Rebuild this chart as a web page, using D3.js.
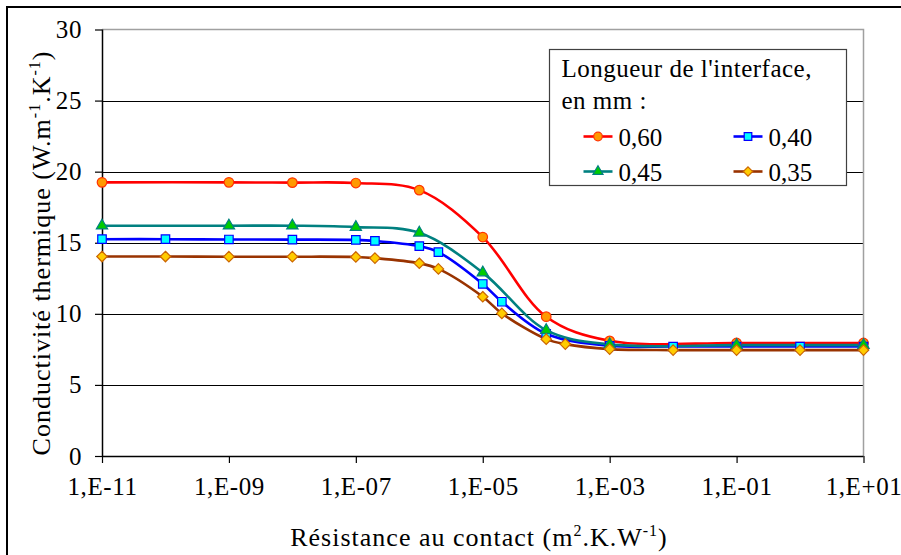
<!DOCTYPE html>
<html>
<head>
<meta charset="utf-8">
<script src="https://cdn.jsdelivr.net/npm/d3@7"></script>
<style>
  body { margin: 0; background: #fff; }
  svg { display: block; }
  svg text { font-family: "Liberation Serif", "Times New Roman", Times, "DejaVu Serif", serif; }
</style>
</head>
<body>
<script>
// series data
const xRed = [1e-11, 1e-9, 1e-8, 1e-7, 1e-6, 1e-5, 1e-4, 1e-3, 1e-1, 1e1];
const yRed = [19.25, 19.25, 19.23, 19.2, 18.7, 15.4, 9.8, 8.1, 7.95, 7.95];

const xGreen = [1e-11, 1e-9, 1e-8, 1e-7, 1e-6, 1e-5, 1e-4, 1e-3, 1e-1, 1e1];
const yGreen = [16.2, 16.2, 16.2, 16.1, 15.7, 12.9, 8.85, 7.85, 7.8, 7.8];

const xBlue = [1e-11, 1e-10, 1e-9, 1e-8, 1e-7, 2e-7, 1e-6, 2e-6, 1e-5, 2e-5, 1e-4, 1e-3, 1e-2, 1e-1, 1e0, 1e1];
const yBlue = [15.25, 15.25, 15.23, 15.22, 15.2, 15.13, 14.76, 14.34, 12.1, 10.85, 8.6, 7.75, 7.7, 7.7, 7.7, 7.7];

const xBrown = [1e-11, 1e-10, 1e-9, 1e-8, 1e-7, 2e-7, 1e-6, 2e-6, 1e-5, 2e-5, 1e-4, 2e-4, 1e-3, 1e-2, 1e-1, 1e0, 1e1];
const yBrown = [14.03, 14.03, 14.02, 14.02, 14.0, 13.92, 13.56, 13.16, 11.2, 10.03, 8.22, 7.87, 7.52, 7.45, 7.45, 7.45, 7.45];

const xTicks = [1e-11, 1e-9, 1e-7, 1e-5, 1e-3, 1e-1, 1e1];
const xTickLabels = ['1,E-11', '1,E-09', '1,E-07', '1,E-05', '1,E-03', '1,E-01', '1,E+01'];
const yTicks = [0, 5, 10, 15, 20, 25, 30];

const legendTitle = ["Longueur de l'interface,", 'en mm :'];

const diamond = {
  draw(ctx, size) {
    const r = Math.sqrt(size / 2);
    ctx.moveTo(0, -r);
    ctx.lineTo(r, 0);
    ctx.lineTo(0, r);
    ctx.lineTo(-r, 0);
    ctx.closePath();
  }
};

const series = [
  { name: '0,60', xs: xRed, ys: yRed, line: '#ff0000', fill: '#ff9900', stroke: '#ff3300', symbol: d3.symbolCircle, size: 72 },
  { name: '0,40', xs: xBlue, ys: yBlue, line: '#0000ff', fill: '#00ffff', stroke: '#0000ff', symbol: d3.symbolSquare, size: 72 },
  { name: '0,45', xs: xGreen, ys: yGreen, line: '#008080', fill: '#00cc00', stroke: '#008080', symbol: d3.symbolTriangle, size: 55 },
  { name: '0,35', xs: xBrown, ys: yBrown, line: '#993300', fill: '#ffcc00', stroke: '#cc6600', symbol: diamond, size: 55 }
];

const width = 901;
const height = 555;
const plotLeft = 102;
const plotRight = 863.5;
const plotTop = 29.5;
const plotBottom = 456;

const svg = d3
  .select('body')
  .append('svg')
  .attr('width', width)
  .attr('height', height);

// outer chart border
svg
  .append('rect')
  .attr('x', 7)
  .attr('y', 7)
  .attr('width', 910)
  .attr('height', 560)
  .attr('fill', '#fff')
  .attr('stroke', '#000')
  .attr('stroke-width', 2);

const x = d3.scaleLog().domain([1e-11, 1e1]).range([plotLeft, plotRight]);
const y = d3.scaleLinear().domain([0, 30]).range([plotBottom, plotTop]);

// gridlines
svg
  .append('g')
  .selectAll('line')
  .data(yTicks.filter(d => d > 0 && d < 30))
  .enter()
  .append('line')
  .attr('x1', plotLeft)
  .attr('x2', plotRight)
  .attr('y1', d => Math.round(y(d)) + 0.5)
  .attr('y2', d => Math.round(y(d)) + 0.5)
  .attr('stroke', '#000')
  .attr('stroke-width', 1);

// plot frame: top and right in gray
svg
  .append('path')
  .attr('d', `M${plotLeft},${plotTop}H${plotRight}V${plotBottom}`)
  .attr('fill', 'none')
  .attr('stroke', '#a0a0a0')
  .attr('stroke-width', 1.5);

const yAxis = d3.axisLeft(y).tickValues(yTicks).tickSize(7).tickPadding(13);
const xAxis = d3
  .axisBottom(x)
  .tickValues(xTicks)
  .tickSize(7)
  .tickPadding(14)
  .tickFormat((d, i) => xTickLabels[i]);

const gy = svg
  .append('g')
  .attr('transform', `translate(${plotLeft}, 0)`)
  .call(yAxis);

const gx = svg
  .append('g')
  .attr('transform', `translate(0, ${plotBottom})`)
  .call(xAxis);

[gx, gy].forEach(g => {
  g.attr('font-family', null).attr('font-size', null);
  g.select('.domain').attr('stroke', '#000').attr('stroke-width', 1.5);
  g.selectAll('.tick line').attr('stroke', '#000').attr('stroke-width', 1.2);
  g.selectAll('.tick text')
    .attr('fill', '#000')
    .style('font-size', '25px')
    .style('letter-spacing', '0.6px');
});
gx.select('.domain').attr('d', `M${plotLeft},0.5H${plotRight}`);
gy.select('.domain').attr('d', `M0.5,${plotBottom}V${plotTop}`);

// series lines and markers
const line = d3
  .line()
  .x(d => x(d[0]))
  .y(d => y(d[1]))
  .curve(d3.curveCatmullRom.alpha(0.5));

series.forEach(s => {
  const pts = s.xs.map((v, i) => [v, s.ys[i]]);
  svg
    .append('path')
    .datum(pts)
    .attr('d', line)
    .attr('fill', 'none')
    .attr('stroke', s.line)
    .attr('stroke-width', 2.6);
});

series.forEach(s => {
  const pts = s.xs.map((v, i) => [v, s.ys[i]]);
  svg
    .append('g')
    .selectAll('path')
    .data(pts)
    .enter()
    .append('path')
    .attr('d', d3.symbol().type(s.symbol).size(s.size))
    .attr('transform', d => `translate(${x(d[0])}, ${y(d[1])})`)
    .attr('fill', s.fill)
    .attr('stroke', s.stroke)
    .attr('stroke-width', 1.2);
});

// axis titles
svg
  .append('text')
  .attr('x', 479)
  .attr('y', 546)
  .attr('text-anchor', 'middle')
  .style('font-size', '26px')
  .style('letter-spacing', '1px')
  .html('Résistance au contact (m<tspan dy="-10" font-size="16">2</tspan><tspan dy="10">.K.W</tspan><tspan dy="-10" font-size="16">-1</tspan><tspan dy="10">)</tspan>');

svg
  .append('text')
  .attr('transform', 'translate(50, 253) rotate(-90)')
  .attr('text-anchor', 'middle')
  .style('font-size', '26px')
  .style('letter-spacing', '1px')
  .html('Conductivité thermique (W.m<tspan dy="-10" font-size="16">-1</tspan><tspan dy="10">.K</tspan><tspan dy="-10" font-size="16">-1</tspan><tspan dy="10">)</tspan>');

// legend
const legend = svg.append('g').attr('transform', 'translate(549.5, 49.5)');

legend
  .append('rect')
  .attr('width', 297)
  .attr('height', 136)
  .attr('fill', '#fff')
  .attr('stroke', '#404040')
  .attr('stroke-width', 1.2);

legend
  .selectAll('.ltitle')
  .data(legendTitle)
  .enter()
  .append('text')
  .attr('class', 'ltitle')
  .attr('x', 12)
  .attr('y', (d, i) => 27 + i * 32)
  .style('font-size', '25px')
  .style('letter-spacing', '0.5px')
  .text(d => d);

series.forEach((s, i) => {
  const col = i % 2;
  const row = Math.floor(i / 2);
  const item = legend
    .append('g')
    .attr('transform', `translate(${34 + col * 150}, ${87 + row * 35})`);
  item
    .append('line')
    .attr('x1', 0)
    .attr('x2', 29)
    .attr('stroke', s.line)
    .attr('stroke-width', 2.6);
  item
    .append('path')
    .attr('d', d3.symbol().type(s.symbol).size(s.size * 0.8))
    .attr('transform', 'translate(14.5, 0)')
    .attr('fill', s.fill)
    .attr('stroke', s.stroke)
    .attr('stroke-width', 1.2);
  item
    .append('text')
    .attr('x', 35)
    .attr('y', 9)
    .style('font-size', '25px')
    .text(s.name);
});
</script>
</body>
</html>
